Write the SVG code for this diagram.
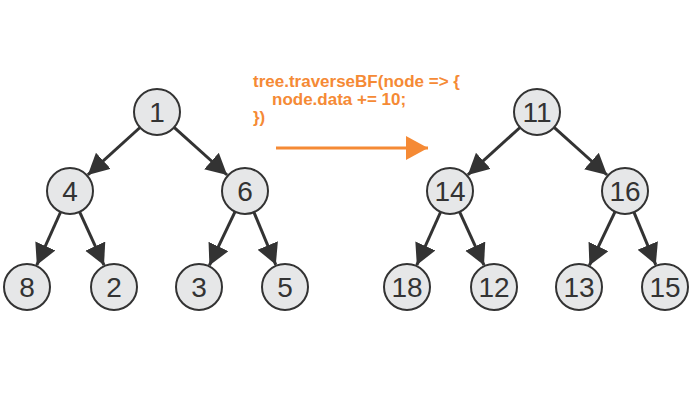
<svg xmlns="http://www.w3.org/2000/svg" width="700" height="400" viewBox="0 0 700 400">
<style>
.node circle{fill:#e6e7e8;stroke:#333;stroke-width:2}
.node text{font-family:"Liberation Sans",Arial,sans-serif;font-size:28px;fill:#333;text-anchor:middle}
.edge{stroke:#333;stroke-width:3;fill:none;marker-end:url(#ah)}
.code{font-family:"Liberation Sans",Arial,sans-serif;font-size:17px;font-weight:bold;fill:#f58a35}
</style>
<defs>
<marker id="ah" markerUnits="userSpaceOnUse" markerWidth="24" markerHeight="24" refX="21" refY="11" orient="auto" viewBox="0 0 24 24">
<path d="M0,0 L21,11 L0,22 z" fill="#333"/>
</marker>
<marker id="oah" markerUnits="userSpaceOnUse" markerWidth="24" markerHeight="26" refX="22" refY="12" orient="auto" viewBox="0 0 24 26">
<path d="M0,0 L22,12 L0,24 z" fill="#f58a35"/>
</marker>
</defs>
<g id="connectors">
<line class="edge" x1="140" y1="127.5" x2="87.8" y2="174.9"/>
<line class="edge" x1="174.1" y1="127.4" x2="227.1" y2="175"/>
<line class="edge" x1="60.6" y1="212" x2="36.8" y2="265.1"/>
<line class="edge" x1="79.6" y1="211.9" x2="104" y2="265.2"/>
<line class="edge" x1="235.1" y1="211.7" x2="209.4" y2="265.4"/>
<line class="edge" x1="253.9" y1="212.2" x2="275.8" y2="264.8"/>
<line class="edge" x1="520" y1="127.5" x2="467.8" y2="174.9"/>
<line class="edge" x1="554.1" y1="127.4" x2="607.1" y2="175"/>
<line class="edge" x1="440.6" y1="212" x2="416.8" y2="265.1"/>
<line class="edge" x1="459.6" y1="211.9" x2="484" y2="265.2"/>
<line class="edge" x1="615.1" y1="211.7" x2="589.4" y2="265.4"/>
<line class="edge" x1="633.9" y1="212.2" x2="655.8" y2="264.8"/>
<line id="transform-arrow" x1="276" y1="148" x2="428" y2="148" stroke="#f58a35" stroke-width="3" marker-end="url(#oah)"/>
</g>
<g id="code">
<text class="code" x="253" y="87">tree.traverseBF(node =&gt; {</text>
<text class="code" x="272" y="105">node.data += 10;</text>
<text class="code" x="253" y="123">})</text>
</g>
<g id="n1" class="node"><circle cx="157" cy="112" r="23"/><text x="157" y="122">1</text></g>
<g id="n4" class="node"><circle cx="70" cy="191" r="23"/><text x="70" y="201">4</text></g>
<g id="n6" class="node"><circle cx="245" cy="191" r="23"/><text x="245" y="201">6</text></g>
<g id="n8" class="node"><circle cx="27" cy="287" r="23"/><text x="27" y="297">8</text></g>
<g id="n2" class="node"><circle cx="114" cy="287" r="23"/><text x="114" y="297">2</text></g>
<g id="n3" class="node"><circle cx="199" cy="287" r="23"/><text x="199" y="297">3</text></g>
<g id="n5" class="node"><circle cx="285" cy="287" r="23"/><text x="285" y="297">5</text></g>
<g id="n11" class="node"><circle cx="537" cy="112" r="23"/><text x="537" y="122">11</text></g>
<g id="n14" class="node"><circle cx="450" cy="191" r="23"/><text x="450" y="201">14</text></g>
<g id="n16" class="node"><circle cx="625" cy="191" r="23"/><text x="625" y="201">16</text></g>
<g id="n18" class="node"><circle cx="407" cy="287" r="23"/><text x="407" y="297">18</text></g>
<g id="n12" class="node"><circle cx="494" cy="287" r="23"/><text x="494" y="297">12</text></g>
<g id="n13" class="node"><circle cx="579" cy="287" r="23"/><text x="579" y="297">13</text></g>
<g id="n15" class="node"><circle cx="665" cy="287" r="23"/><text x="665" y="297">15</text></g>
</svg>
